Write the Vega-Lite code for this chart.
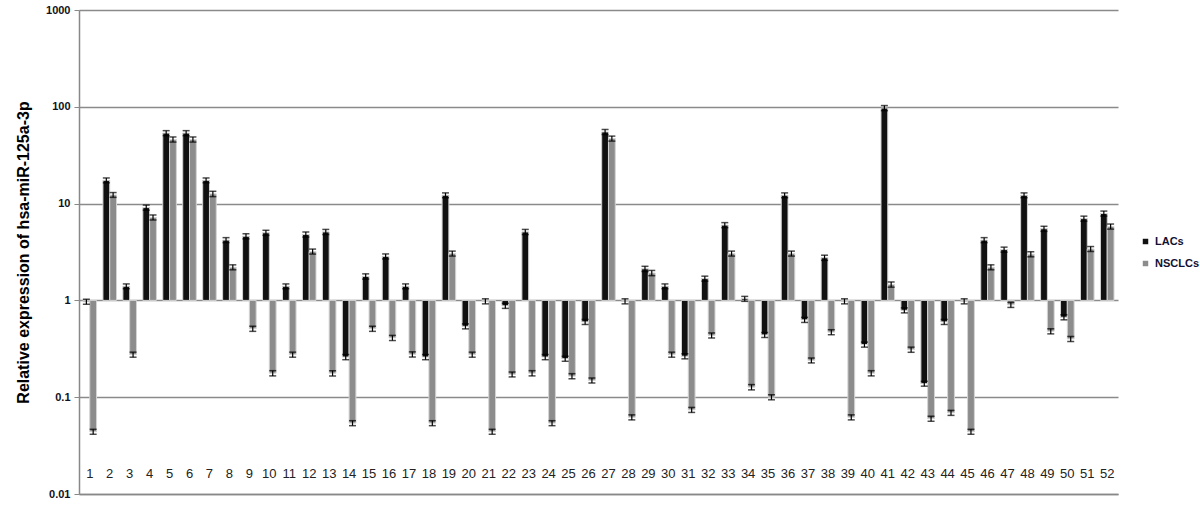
{
  "$schema": "https://vega.github.io/schema/vega-lite/v6.json",
  "width": 1039,
  "height": 484,
  "autosize": "none",
  "padding": {"left": 79, "top": 10, "right": 82, "bottom": 13},
  "config": {"view": {"stroke": null}, "font": "Liberation Sans"},
  "data": {"values": [
    {"s":1,"g":"LACs","v":0.97,"lo":0.912,"hi":1.028},{"s":1,"g":"NSCLCs","v":0.044,"lo":0.0414,"hi":0.0466},
    {"s":2,"g":"LACs","v":17.4,"lo":16.4,"hi":18.4},{"s":2,"g":"NSCLCs","v":12.3,"lo":11.6,"hi":13.0},
    {"s":3,"g":"LACs","v":1.4,"lo":1.32,"hi":1.48},{"s":3,"g":"NSCLCs","v":0.275,"lo":0.259,"hi":0.292},
    {"s":4,"g":"LACs","v":9.1,"lo":8.55,"hi":9.65},{"s":4,"g":"NSCLCs","v":7.2,"lo":6.77,"hi":7.63},
    {"s":5,"g":"LACs","v":53.5,"lo":50.3,"hi":56.7},{"s":5,"g":"NSCLCs","v":46,"lo":43.2,"hi":48.8},
    {"s":6,"g":"LACs","v":53.5,"lo":50.3,"hi":56.7},{"s":6,"g":"NSCLCs","v":46,"lo":43.2,"hi":48.8},
    {"s":7,"g":"LACs","v":17.4,"lo":16.4,"hi":18.4},{"s":7,"g":"NSCLCs","v":12.6,"lo":11.8,"hi":13.4},
    {"s":8,"g":"LACs","v":4.2,"lo":3.95,"hi":4.45},{"s":8,"g":"NSCLCs","v":2.2,"lo":2.07,"hi":2.33},
    {"s":9,"g":"LACs","v":4.6,"lo":4.32,"hi":4.88},{"s":9,"g":"NSCLCs","v":0.51,"lo":0.479,"hi":0.541},
    {"s":10,"g":"LACs","v":5.0,"lo":4.7,"hi":5.3},{"s":10,"g":"NSCLCs","v":0.177,"lo":0.166,"hi":0.188},
    {"s":11,"g":"LACs","v":1.4,"lo":1.32,"hi":1.48},{"s":11,"g":"NSCLCs","v":0.275,"lo":0.259,"hi":0.292},
    {"s":12,"g":"LACs","v":4.8,"lo":4.51,"hi":5.09},{"s":12,"g":"NSCLCs","v":3.2,"lo":3.01,"hi":3.39},
    {"s":13,"g":"LACs","v":5.1,"lo":4.79,"hi":5.41},{"s":13,"g":"NSCLCs","v":0.177,"lo":0.166,"hi":0.188},
    {"s":14,"g":"LACs","v":0.26,"lo":0.244,"hi":0.276},{"s":14,"g":"NSCLCs","v":0.054,"lo":0.0508,"hi":0.0572},
    {"s":15,"g":"LACs","v":1.77,"lo":1.66,"hi":1.88},{"s":15,"g":"NSCLCs","v":0.51,"lo":0.479,"hi":0.541},
    {"s":16,"g":"LACs","v":2.85,"lo":2.68,"hi":3.02},{"s":16,"g":"NSCLCs","v":0.41,"lo":0.385,"hi":0.435},
    {"s":17,"g":"LACs","v":1.4,"lo":1.32,"hi":1.48},{"s":17,"g":"NSCLCs","v":0.277,"lo":0.26,"hi":0.294},
    {"s":18,"g":"LACs","v":0.26,"lo":0.244,"hi":0.276},{"s":18,"g":"NSCLCs","v":0.054,"lo":0.0508,"hi":0.0572},
    {"s":19,"g":"LACs","v":12.2,"lo":11.5,"hi":12.9},{"s":19,"g":"NSCLCs","v":3.05,"lo":2.87,"hi":3.23},
    {"s":20,"g":"LACs","v":0.54,"lo":0.508,"hi":0.572},{"s":20,"g":"NSCLCs","v":0.275,"lo":0.259,"hi":0.292},
    {"s":21,"g":"LACs","v":0.98,"lo":0.921,"hi":1.039},{"s":21,"g":"NSCLCs","v":0.044,"lo":0.0414,"hi":0.0466},
    {"s":22,"g":"LACs","v":0.88,"lo":0.827,"hi":0.933},{"s":22,"g":"NSCLCs","v":0.172,"lo":0.162,"hi":0.182},
    {"s":23,"g":"LACs","v":5.1,"lo":4.79,"hi":5.41},{"s":23,"g":"NSCLCs","v":0.177,"lo":0.166,"hi":0.188},
    {"s":24,"g":"LACs","v":0.26,"lo":0.244,"hi":0.276},{"s":24,"g":"NSCLCs","v":0.054,"lo":0.0508,"hi":0.0572},
    {"s":25,"g":"LACs","v":0.25,"lo":0.235,"hi":0.265},{"s":25,"g":"NSCLCs","v":0.165,"lo":0.155,"hi":0.175},
    {"s":26,"g":"LACs","v":0.6,"lo":0.564,"hi":0.636},{"s":26,"g":"NSCLCs","v":0.149,"lo":0.14,"hi":0.158},
    {"s":27,"g":"LACs","v":55,"lo":51.7,"hi":58.3},{"s":27,"g":"NSCLCs","v":47,"lo":44.2,"hi":49.8},
    {"s":28,"g":"LACs","v":0.98,"lo":0.921,"hi":1.039},{"s":28,"g":"NSCLCs","v":0.062,"lo":0.0583,"hi":0.0657},
    {"s":29,"g":"LACs","v":2.12,"lo":1.99,"hi":2.25},{"s":29,"g":"NSCLCs","v":1.92,"lo":1.8,"hi":2.04},
    {"s":30,"g":"LACs","v":1.4,"lo":1.32,"hi":1.48},{"s":30,"g":"NSCLCs","v":0.275,"lo":0.259,"hi":0.292},
    {"s":31,"g":"LACs","v":0.265,"lo":0.249,"hi":0.281},{"s":31,"g":"NSCLCs","v":0.074,"lo":0.0696,"hi":0.0784},
    {"s":32,"g":"LACs","v":1.68,"lo":1.58,"hi":1.78},{"s":32,"g":"NSCLCs","v":0.435,"lo":0.409,"hi":0.461},
    {"s":33,"g":"LACs","v":6.0,"lo":5.64,"hi":6.36},{"s":33,"g":"NSCLCs","v":3.05,"lo":2.87,"hi":3.23},
    {"s":34,"g":"LACs","v":1.04,"lo":0.978,"hi":1.1},{"s":34,"g":"NSCLCs","v":0.127,"lo":0.119,"hi":0.135},
    {"s":35,"g":"LACs","v":0.44,"lo":0.414,"hi":0.466},{"s":35,"g":"NSCLCs","v":0.1,"lo":0.094,"hi":0.106},
    {"s":36,"g":"LACs","v":12.2,"lo":11.5,"hi":12.9},{"s":36,"g":"NSCLCs","v":3.05,"lo":2.87,"hi":3.23},
    {"s":37,"g":"LACs","v":0.63,"lo":0.592,"hi":0.668},{"s":37,"g":"NSCLCs","v":0.24,"lo":0.226,"hi":0.254},
    {"s":38,"g":"LACs","v":2.76,"lo":2.59,"hi":2.93},{"s":38,"g":"NSCLCs","v":0.47,"lo":0.442,"hi":0.498},
    {"s":39,"g":"LACs","v":0.98,"lo":0.921,"hi":1.039},{"s":39,"g":"NSCLCs","v":0.062,"lo":0.0583,"hi":0.0657},
    {"s":40,"g":"LACs","v":0.35,"lo":0.329,"hi":0.371},{"s":40,"g":"NSCLCs","v":0.177,"lo":0.166,"hi":0.188},
    {"s":41,"g":"LACs","v":97,"lo":91.2,"hi":103},{"s":41,"g":"NSCLCs","v":1.46,"lo":1.37,"hi":1.55},
    {"s":42,"g":"LACs","v":0.79,"lo":0.743,"hi":0.837},{"s":42,"g":"NSCLCs","v":0.31,"lo":0.291,"hi":0.329},
    {"s":43,"g":"LACs","v":0.138,"lo":0.13,"hi":0.146},{"s":43,"g":"NSCLCs","v":0.06,"lo":0.0564,"hi":0.0636},
    {"s":44,"g":"LACs","v":0.6,"lo":0.564,"hi":0.636},{"s":44,"g":"NSCLCs","v":0.069,"lo":0.0649,"hi":0.0731},
    {"s":45,"g":"LACs","v":0.98,"lo":0.921,"hi":1.039},{"s":45,"g":"NSCLCs","v":0.044,"lo":0.0414,"hi":0.0466},
    {"s":46,"g":"LACs","v":4.2,"lo":3.95,"hi":4.45},{"s":46,"g":"NSCLCs","v":2.2,"lo":2.07,"hi":2.33},
    {"s":47,"g":"LACs","v":3.35,"lo":3.15,"hi":3.55},{"s":47,"g":"NSCLCs","v":0.9,"lo":0.846,"hi":0.954},
    {"s":48,"g":"LACs","v":12.2,"lo":11.5,"hi":12.9},{"s":48,"g":"NSCLCs","v":3.0,"lo":2.82,"hi":3.18},
    {"s":49,"g":"LACs","v":5.5,"lo":5.17,"hi":5.83},{"s":49,"g":"NSCLCs","v":0.48,"lo":0.451,"hi":0.509},
    {"s":50,"g":"LACs","v":0.67,"lo":0.63,"hi":0.71},{"s":50,"g":"NSCLCs","v":0.4,"lo":0.376,"hi":0.424},
    {"s":51,"g":"LACs","v":7.0,"lo":6.58,"hi":7.42},{"s":51,"g":"NSCLCs","v":3.4,"lo":3.2,"hi":3.6},
    {"s":52,"g":"LACs","v":7.9,"lo":7.43,"hi":8.37},{"s":52,"g":"NSCLCs","v":5.8,"lo":5.45,"hi":6.15}
  ]},
  "encoding": {
    "x": {
      "field": "s", "type": "ordinal",
      "scale": {"paddingInner": 0.32, "paddingOuter": 0.2},
      "axis": {"title": null, "labelAngle": 0, "ticks": false, "labelPadding": -27, "labelFontSize": 13, "labelColor": "#222222", "domainColor": "#888888", "domainWidth": 1.5, "labelFont": "Liberation Sans"}
    },
    "xOffset": {"field": "g", "type": "nominal", "scale": {"domain": ["LACs", "NSCLCs"]}}
  },
  "layer": [
    {
      "mark": {"type": "bar", "stroke": "#d4d4d4", "strokeWidth": 1},
      "encoding": {
        "y": {
          "field": "v", "type": "quantitative",
          "scale": {"type": "log", "domain": [0.01, 1000]},
          "title": "Relative expression of hsa-miR-125a-3p",
          "axis": {"values": [0.01, 0.1, 1, 10, 100, 1000], "format": "~g", "labelFont": "Liberation Sans", "labelFontWeight": "bold", "labelFontSize": 11, "labelColor": "#111122", "titleFont": "Liberation Sans", "titleFontSize": 16, "titleFontWeight": "bold", "titleColor": "#000000", "titlePadding": 14, "grid": true, "gridColor": "#8a8a8a", "gridWidth": 1.3, "domainColor": "#888888", "domainWidth": 1.5, "tickColor": "#888888", "tickSize": 5, "labelPadding": 4}
        },
        "y2": {"datum": 1},
        "color": {
          "field": "g", "type": "nominal",
          "scale": {"domain": ["LACs", "NSCLCs"], "range": ["#111111", "#8c8c8c"]},
          "legend": {"orient": "none", "legendX": 1061, "legendY": 226, "title": null, "symbolType": "square", "symbolSize": 30, "symbolStrokeWidth": 0, "labelFont": "Liberation Sans", "labelFontWeight": "bold", "labelFontSize": 11, "labelColor": "#111133", "rowPadding": 10}
        }
      }
    },
    {
      "mark": {"type": "rule", "color": "#000000", "strokeWidth": 1.2},
      "encoding": {
        "y": {"field": "lo", "type": "quantitative", "title": "Relative expression of hsa-miR-125a-3p"},
        "y2": {"field": "hi"}
      }
    },
    {
      "mark": {"type": "tick", "color": "#000000", "thickness": 1.5, "size": 7},
      "encoding": {"y": {"field": "lo", "type": "quantitative", "title": "Relative expression of hsa-miR-125a-3p"}}
    },
    {
      "mark": {"type": "tick", "color": "#000000", "thickness": 1.5, "size": 7},
      "encoding": {"y": {"field": "hi", "type": "quantitative", "title": "Relative expression of hsa-miR-125a-3p"}}
    }
  ]
}
